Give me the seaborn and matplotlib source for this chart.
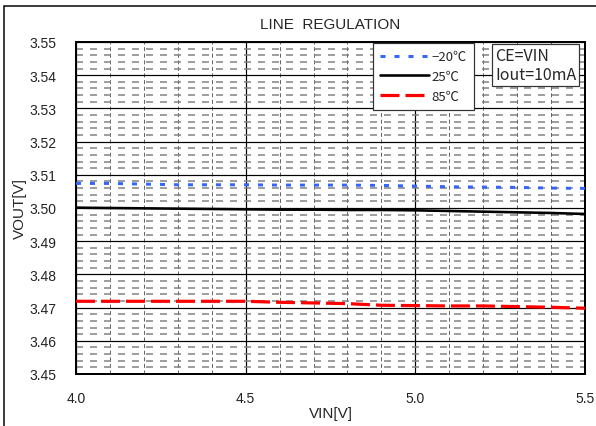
import numpy as np
import pandas as pd
import matplotlib
matplotlib.use("Agg")
import matplotlib.pyplot as plt
from matplotlib.ticker import MultipleLocator, FormatStrFormatter
from matplotlib.patches import Rectangle
import seaborn as sns

# ---- data ----
vin = [4.0, 4.1, 4.2, 4.3, 4.4, 4.5, 4.6, 4.7, 4.8, 4.9, 5.0, 5.1, 5.2, 5.3, 5.4, 5.5]
vout_m20 = [3.5074, 3.5074, 3.5072, 3.5070, 3.5070, 3.5070, 3.5069, 3.5069, 3.5069,
            3.5068, 3.5066, 3.5064, 3.5063, 3.5062, 3.5060, 3.5059]
vout_25 = [3.5001, 3.5000, 3.4999, 3.4998, 3.4997, 3.4996, 3.4995, 3.4995, 3.4994,
           3.4994, 3.4993, 3.4991, 3.4989, 3.4987, 3.4985, 3.4982]
vout_85 = [3.4719, 3.4719, 3.4719, 3.4719, 3.4719, 3.4719, 3.4716, 3.4714, 3.4712,
           3.4707, 3.4706, 3.4705, 3.4705, 3.4703, 3.4701, 3.4698]
series_labels = ["\u221220\u2103", "25\u2103", "85\u2103"]
x_ticks = [4.0, 4.5, 5.0, 5.5]

df = pd.DataFrame({
    "VIN": vin * 3,
    "VOUT": vout_m20 + vout_25 + vout_85,
    "T": [series_labels[0]] * len(vin) + [series_labels[1]] * len(vin) + [series_labels[2]] * len(vin),
})

sns.set_style("white")
plt.rcParams["font.family"] = ["Liberation Sans", "DejaVu Sans"]
plt.rcParams["lines.scale_dashes"] = False

px = 0.72  # points per pixel at dpi 100
fig = plt.figure(figsize=(5.96, 4.27), dpi=100)
ax = fig.add_axes([76 / 596, 1 - 375 / 427, (585 - 76) / 596, (375 - 43) / 427])

palette = {series_labels[0]: "#3366ff", series_labels[1]: "#000000", series_labels[2]: "#ff0000"}
dashes = {series_labels[0]: (5 * px, 9 * px), series_labels[1]: "", series_labels[2]: (19 * px, 6 * px)}
sizes = {series_labels[0]: 3 * px, series_labels[1]: 2.6 * px, series_labels[2]: 3.2 * px}

for lab in series_labels:
    sub = df[df["T"] == lab]
    sns.lineplot(data=sub, x="VIN", y="VOUT", ax=ax, color=palette[lab],
                 linewidth=sizes[lab], label=lab, zorder=5)
    line = ax.lines[-1]
    if dashes[lab]:
        line.set_dashes(dashes[lab])

ax.set_xlim(4.0, 5.5)
ax.set_ylim(3.45, 3.55)
ax.xaxis.set_major_locator(plt.FixedLocator(x_ticks))
ax.xaxis.set_minor_locator(MultipleLocator(0.1))
ax.yaxis.set_major_locator(MultipleLocator(0.01))
ax.yaxis.set_minor_locator(MultipleLocator(0.002))
ax.xaxis.set_major_formatter(FormatStrFormatter("%.1f"))
ax.yaxis.set_major_formatter(FormatStrFormatter("%.2f"))
ax.tick_params(which="both", length=0, labelsize=10, colors="#222222")
ax.tick_params(axis="y", pad=14)
ax.tick_params(axis="x", pad=12)

ax.grid(which="minor", axis="y", color="#808080", linewidth=1.5 * px, linestyle=(0, (7 * px, 7 * px)), zorder=1)
ax.grid(which="minor", axis="x", color="#555555", linewidth=0.9 * px, linestyle=(0, (4 * px, 2.6 * px)), zorder=1)
ax.grid(which="major", axis="both", color="black", linewidth=1.2 * px, linestyle="-", zorder=2)
ax.set_axisbelow(True)
for s in ax.spines.values():
    s.set_color("black")
    s.set_linewidth(2 * px)

ax.set_xlabel("VIN[V]", fontsize=11, labelpad=1)
ax.set_ylabel("VOUT[V]", fontsize=11, labelpad=2)
ax.set_title("LINE  REGULATION", fontsize=11, pad=10)

leg = ax.legend(loc="upper left", bbox_to_anchor=(373 / 596, 1 - 44 / 427),
                bbox_transform=fig.transFigure, frameon=True, fancybox=False,
                edgecolor="#333333", framealpha=1, borderaxespad=0,
                prop={"family": ["Noto Sans CJK JP", "DejaVu Sans"], "size": 9.5},
                handlelength=3.7, handletextpad=0.15, labelspacing=0.5,
                borderpad=0.55)
leg.get_frame().set_linewidth(1.2 * px)

fig.text(495 / 596, 1 - 66 / 427, "CE=VIN\nIout=10mA", fontsize=11.5,
         family=["Noto Sans CJK JP", "DejaVu Sans"], va="center", ha="left",
         linespacing=1.1,
         bbox=dict(boxstyle="square,pad=0.2", facecolor="white", edgecolor="#333333", linewidth=1.2 * px),
         zorder=10)

fig.patches.append(Rectangle((4 / 596, -0.01), 1.0, 1 - 7 / 427 + 0.01, transform=fig.transFigure,
                             fill=False, edgecolor="black", linewidth=1.5 * px))

fig.savefig("out.png", dpi=100)
